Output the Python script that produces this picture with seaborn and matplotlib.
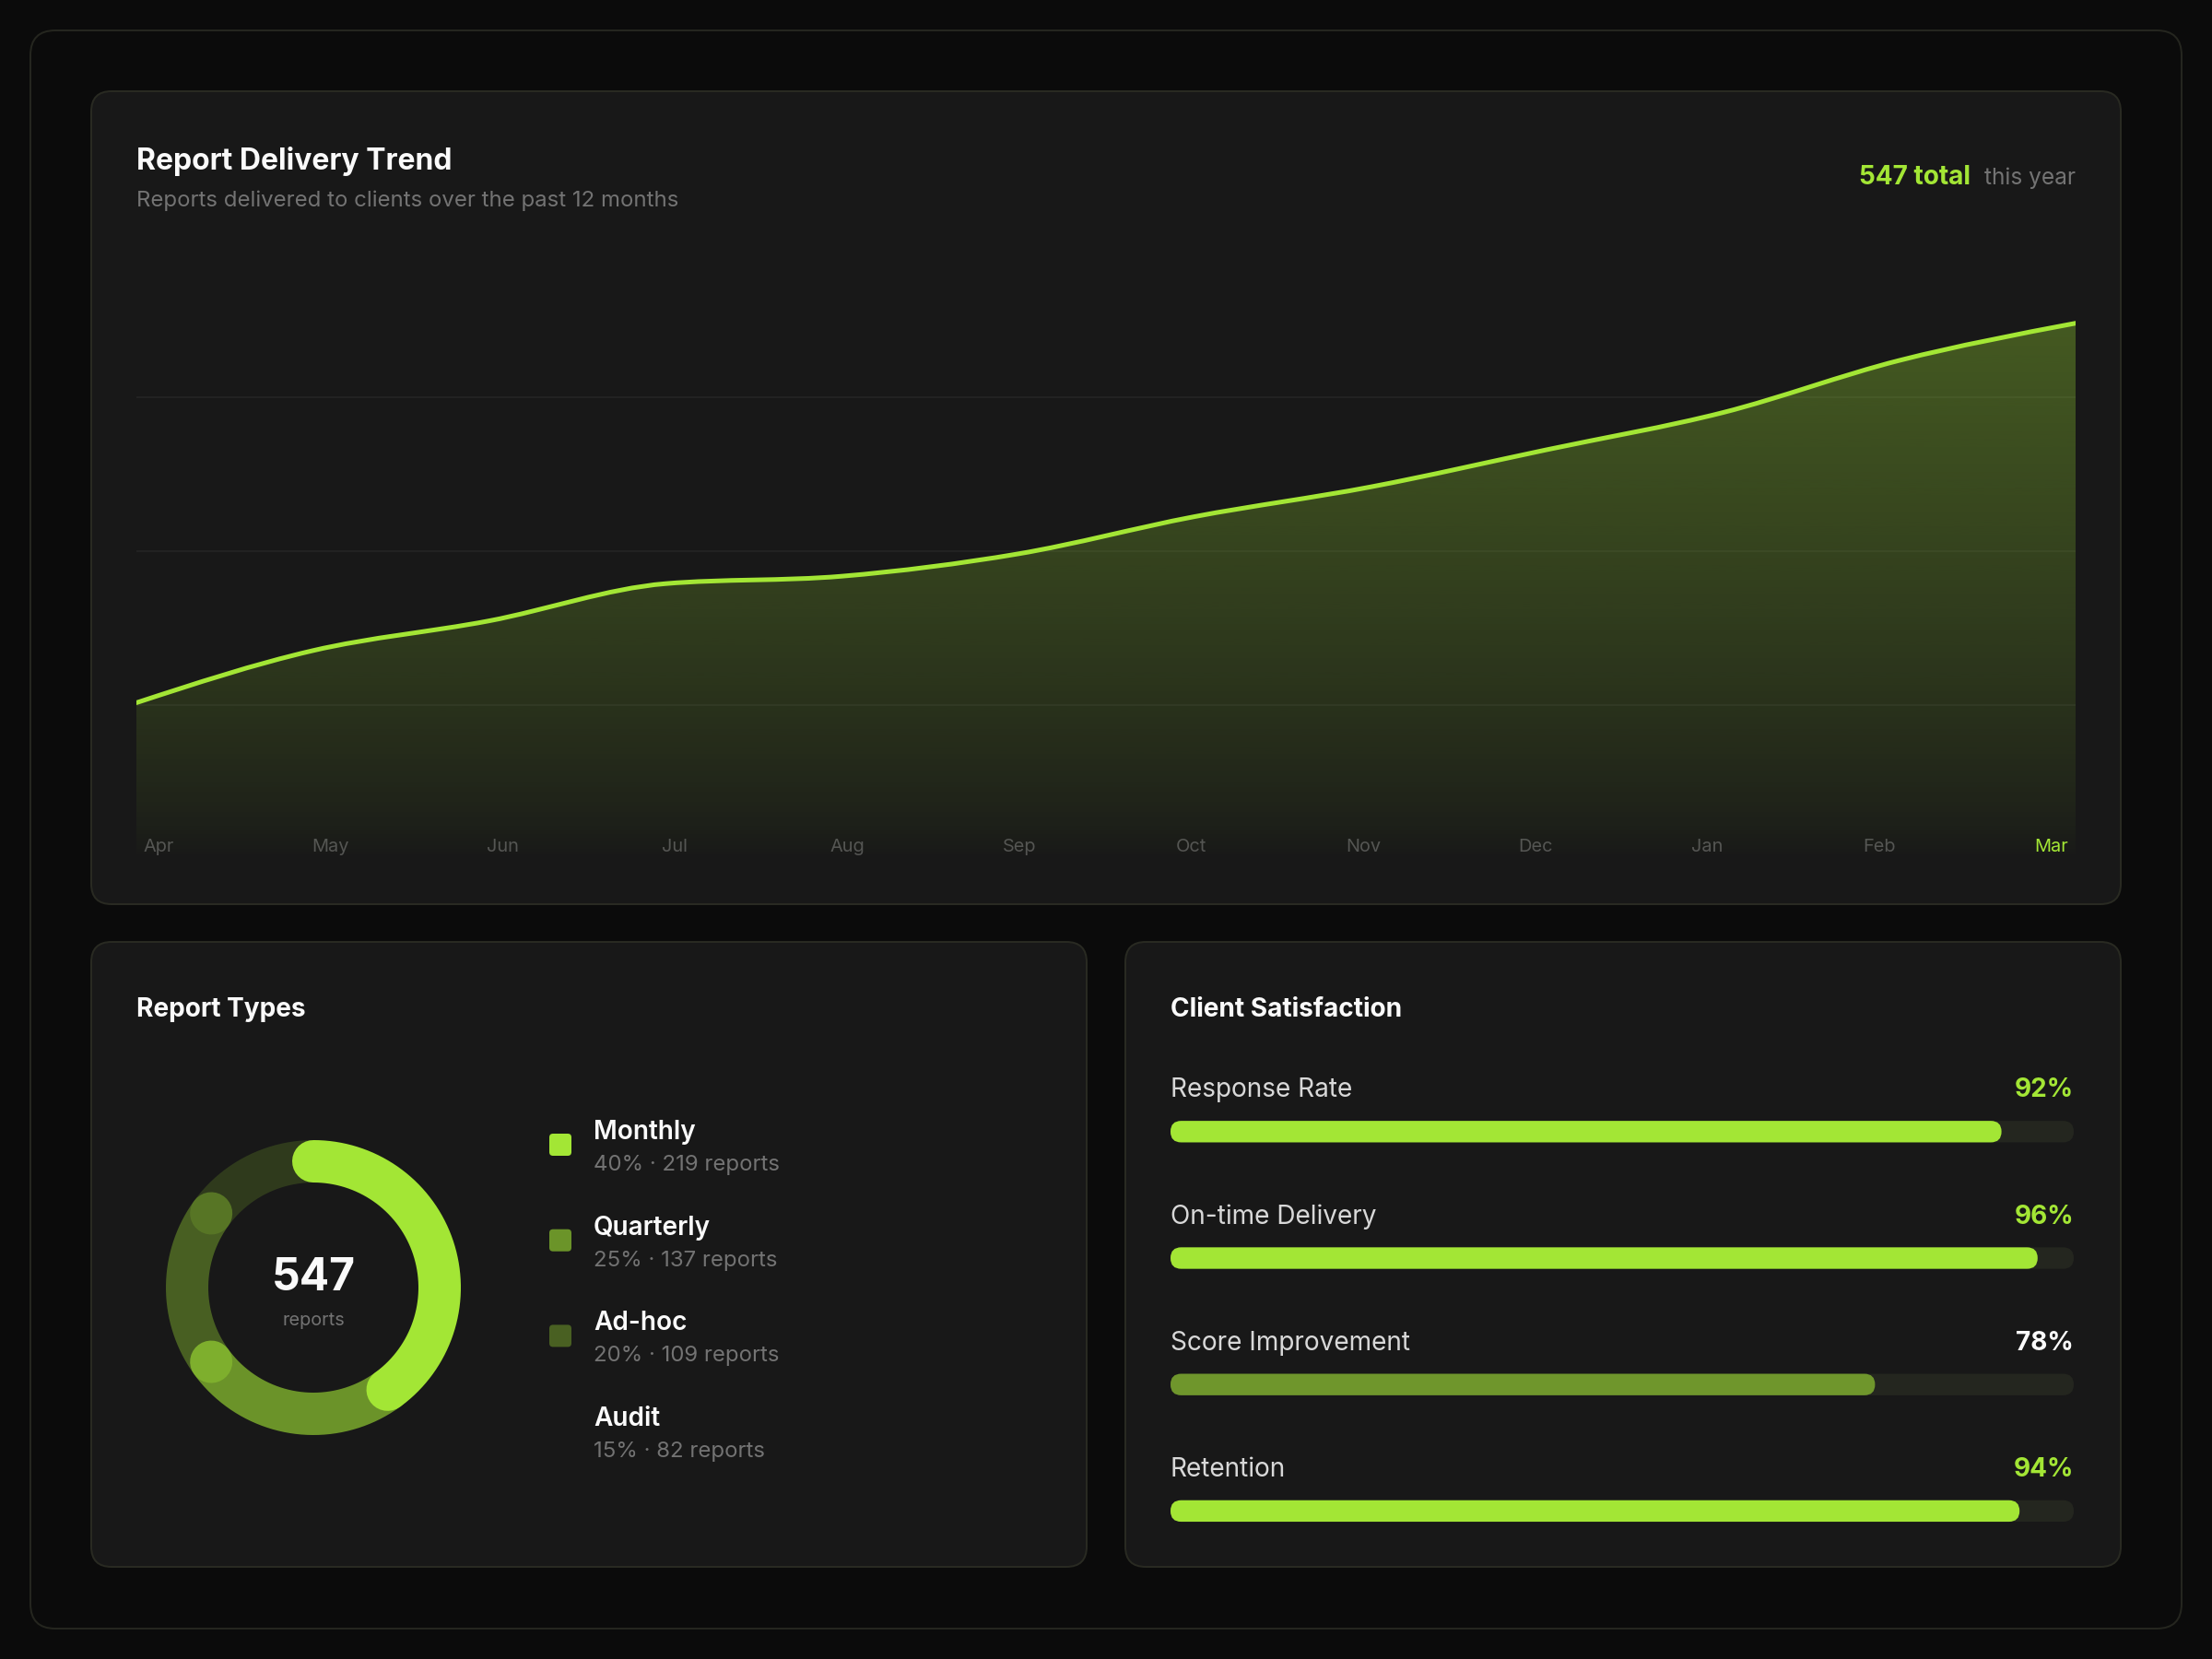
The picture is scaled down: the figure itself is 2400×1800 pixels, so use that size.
import numpy as np
import pandas as pd
import seaborn as sns
import matplotlib.pyplot as plt
from matplotlib.patches import FancyBboxPatch, PathPatch
from matplotlib.path import Path
from matplotlib.colors import to_rgb

# data
months = ["Apr", "May", "Jun", "Jul", "Aug", "Sep", "Oct", "Nov", "Dec", "Jan", "Feb", "Mar"]
delivered = [21, 28, 32, 37, 38, 41, 46, 50, 55, 60, 67, 72]

type_names = ["Monthly", "Quarterly", "Ad-hoc", "Audit"]
type_share = [40, 25, 20, 15]
type_counts = [219, 137, 109, 82]
type_alpha = [1.0, 0.6, 0.35, 0.17]

metric_names = ["Response Rate", "On-time Delivery", "Score Improvement", "Retention"]
metric_values = [92, 96, 78, 94]

ACCENT = "#a3e635"
MUTED = "#6f962c"
PAGE = "#0b0b0b"
CARD = "#181818"
EDGE = "#292a22"
WHITE = "#fafafa"
GRAY = "#737373"
W, H = 2400, 1800


def px(x, y, w, h):
    # pixel box (top-left origin) -> figure fraction rect
    return [x / W, 1 - (y + h) / H, w / W, h / H]


def blend(alpha, base=CARD):
    a = np.array(to_rgb(ACCENT))
    b = np.array(to_rgb(base))
    return tuple(b + alpha * (a - b))


def monotone_path(xs, ys):
    '''cubic bezier path through the points, monotone in x (like d3.curveMonotoneX)'''
    xs = np.asarray(xs, float)
    ys = np.asarray(ys, float)
    h = np.diff(xs)
    s = np.diff(ys) / h
    n = len(xs)
    t = np.zeros(n)
    for i in range(1, n - 1):
        p = (s[i - 1] * h[i] + s[i] * h[i - 1]) / (h[i - 1] + h[i])
        t[i] = (np.sign(s[i - 1]) + np.sign(s[i])) * min(abs(s[i - 1]), abs(s[i]), 0.5 * abs(p))
    t[0] = (3 * s[0] - t[1]) / 2
    t[-1] = (3 * s[-1] - t[-2]) / 2
    verts = [(xs[0], ys[0])]
    codes = [Path.MOVETO]
    for i in range(n - 1):
        d = h[i] / 3
        verts += [(xs[i] + d, ys[i] + d * t[i]), (xs[i + 1] - d, ys[i + 1] - d * t[i + 1]), (xs[i + 1], ys[i + 1])]
        codes += [Path.CURVE4] * 3
    return verts, codes


sns.set_theme(style="dark", rc={"axes.facecolor": "none", "figure.facecolor": PAGE})
plt.rcParams['font.family'] = ['Inter', 'DejaVu Sans']

fig = plt.figure(figsize=(12, 9), dpi=200)
fig.patch.set_facecolor(PAGE)

# background layer in pixel units
bg = fig.add_axes([0, 0, 1, 1])
bg.set_xlim(0, W)
bg.set_ylim(H, 0)
bg.axis('off')


def rbox(x0, y0, x1, y1, r, fc, ec, lw=0.72):
    bg.add_patch(FancyBboxPatch((x0, y0), x1 - x0, y1 - y0, boxstyle=f"round,pad=0,rounding_size={r}",
                                fc=fc, ec=ec, lw=lw))


rbox(33, 33, 2367, 1767, 27, PAGE, "#25261f")
rbox(99, 99, 2301, 981, 22, CARD, EDGE)
rbox(99, 1022, 1179, 1700, 22, CARD, EDGE)
rbox(1221, 1022, 2301, 1700, 22, CARD, EDGE)

# ---- top card: delivery trend ----
bg.text(148, 184, "Report Delivery Trend", color=WHITE, fontsize=11.5, fontweight='bold', va='baseline')
bg.text(148, 224, "Reports delivered to clients over the past 12 months", color=GRAY, fontsize=8.64, va='baseline')
bg.text(2252, 200, "this year", color=GRAY, fontsize=8.8, ha='right', va='baseline')
bg.text(2138, 200, f"{sum(delivered)} total", color=ACCENT, fontsize=10.08, fontweight='bold', ha='right', va='baseline')

ax = fig.add_axes(px(148, 263.5, 2104, 668.5))
ax.set_facecolor('none')
xpos = np.arange(len(months))
ymax = max(delivered) * 1.15
ax.set_xlim(0, len(months) - 1)
ax.set_ylim(0, ymax)
ax.set_yticks([ymax * 0.25, ymax * 0.5, ymax * 0.75])
ax.set_xticks([])
ax.grid(axis='y', color='#232323', lw=0.7)
ax.tick_params(left=False, labelleft=False, bottom=False, labelbottom=False)
for sp in ax.spines.values():
    sp.set_visible(False)

verts, codes = monotone_path(xpos, delivered)
area = Path(verts + [(xpos[-1], 0), (xpos[0], 0), verts[0]],
            codes + [Path.LINETO, Path.LINETO, Path.CLOSEPOLY])
clip = PathPatch(area, transform=ax.transData, fc='none', ec='none')
ax.add_patch(clip)
grad = np.zeros((256, 1, 4))
grad[:, 0, :3] = to_rgb(ACCENT)
grad[:, 0, 3] = 0.32 * np.linspace(0, 1, 256) ** 0.75
im = ax.imshow(grad, extent=(0, len(months) - 1, 0, max(delivered)), origin='lower', aspect='auto', zorder=1)
im.set_clip_path(clip)
ax.set_xlim(0, len(months) - 1)
ax.set_ylim(0, ymax)
ax.add_patch(PathPatch(Path(verts, codes), fc='none', ec=ACCENT, lw=1.8, capstyle='round',
                       joinstyle='round', zorder=3))

for xl, m in zip(np.linspace(172, 2226, len(months)), months):
    bg.text(xl, 924, m, color=ACCENT if m == months[-1] else "#545454", fontsize=7.2, ha='center', va='baseline')

# ---- bottom left: report types donut ----
bg.text(148, 1103, "Report Types", color=WHITE, fontsize=10.08, fontweight='bold', va='baseline')

dax = fig.add_axes(px(140, 1197, 400, 400))
dax.set_xlim(-200, 200)
dax.set_ylim(-200, 200)
dax.axis('off')
start = 0.0
for share, a in zip(type_share, type_alpha):
    th = np.radians(np.linspace(start, start + share * 3.6, 200))
    dax.plot(137 * np.sin(th), 137 * np.cos(th), color=ACCENT, alpha=a, lw=16.56, solid_capstyle='round')
    start += share * 3.6
dax.text(0, -3, f"{sum(type_counts)}", color=WHITE, fontsize=17.28, fontweight='bold', ha='center', va='baseline')
dax.text(0, -41, "reports", color=GRAY, fontsize=7.2, ha='center', va='baseline')

for i, (name, share, cnt, a) in enumerate(zip(type_names, type_share, type_counts, type_alpha)):
    yb = 1236 + i * 103.7
    if name != "Audit":
        bg.add_patch(FancyBboxPatch((596, yb - 6), 24, 24, boxstyle="round,pad=0,rounding_size=4",
                                    fc=blend(a), ec='none'))
    bg.text(644, yb, name, color=WHITE, fontsize=10.08, fontweight='semibold', va='baseline')
    bg.text(644, yb + 34, f"{share}% · {cnt} reports", color=GRAY, fontsize=8.64, va='baseline')

# ---- bottom right: client satisfaction bars ----
bg.text(1270, 1103, "Client Satisfaction", color=WHITE, fontsize=10.08, fontweight='bold', va='baseline')

sat = pd.DataFrame({"Metric": metric_names, "Value": metric_values, "Track": [100] * len(metric_names)})
bar_colors = [ACCENT if v >= 90 else MUTED for v in metric_values]

sax = fig.add_axes(px(1270, 1159.2, 980, 548.8))
sns.barplot(data=sat, x="Track", y="Metric", color="#24261f", width=0.17, saturation=1, orient='h', ax=sax)
sns.barplot(data=sat, x="Value", y="Metric", hue="Metric", palette=bar_colors, width=0.17, saturation=1,
            orient='h', legend=False, ax=sax)
sax.set_xlim(0, 100)
sax.set_ylim(len(metric_names) - 0.5, -0.5)
sax.axis('off')

for p in list(sax.patches):
    fb = FancyBboxPatch((p.get_x(), p.get_y()), p.get_width(), p.get_height(),
                        boxstyle="round,pad=0,rounding_size=1.18", mutation_aspect=0.0714,
                        fc=p.get_facecolor(), ec='none', zorder=p.get_zorder())
    p.remove()
    sax.add_patch(fb)

for i, (name, v) in enumerate(zip(metric_names, metric_values)):
    sax.text(0, i - 0.273, name, color="#d8d8d8", fontsize=10.08, ha='left', va='baseline')
    sax.text(100, i - 0.273, f"{v}%", color=ACCENT if v >= 90 else WHITE, fontsize=10.08,
             fontweight='bold', ha='right', va='baseline')

fig.savefig("out.png", dpi=200, facecolor=fig.get_facecolor())
